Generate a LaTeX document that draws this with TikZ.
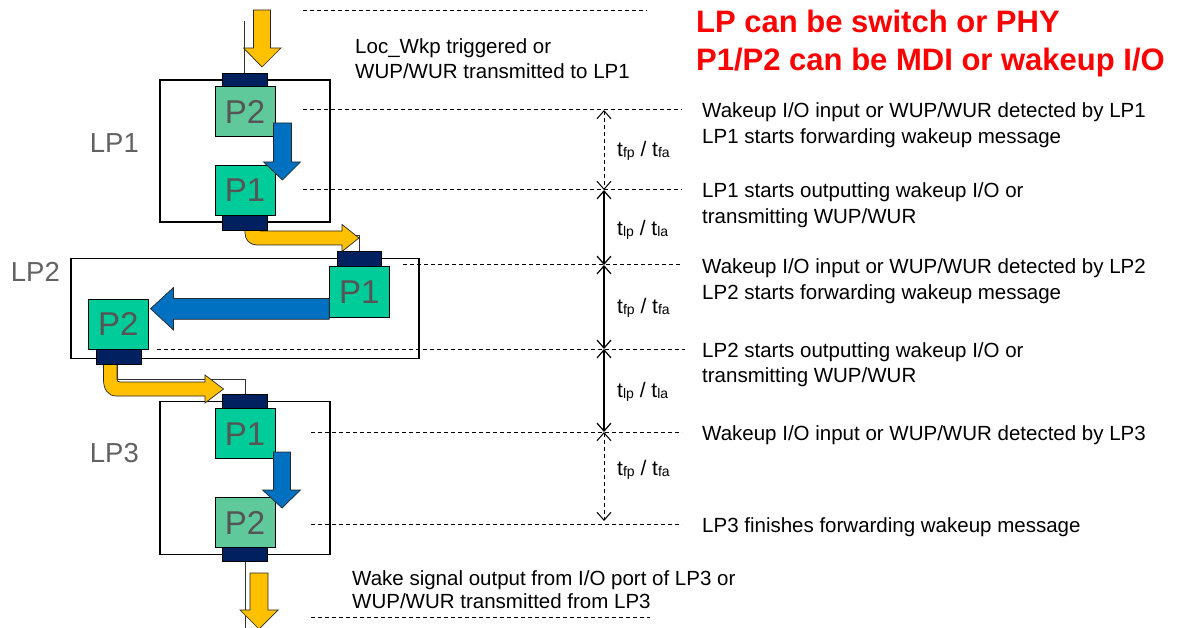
\documentclass[tikz,border=0pt]{standalone}
\usepackage{fontspec}
\setmainfont{Liberation Sans}
\usetikzlibrary{arrows.meta}
\definecolor{gold}{HTML}{FFC000}
\definecolor{pblue}{HTML}{0070C0}
\definecolor{navy}{HTML}{002060}
\definecolor{pteal}{HTML}{00CC99}
\definecolor{plight}{HTML}{5FC99B}
\definecolor{lblgray}{HTML}{626262}
\definecolor{ptxt}{HTML}{555555}
\newcommand\mysubt[1]{t\raisebox{-1pt}{\fontsize{14}{14}\selectfont #1}}
\tikzset{
  lpbox/.style={draw=black, line width=1.1pt, fill=white, inner sep=0pt},
  conn/.style={draw=black, line width=0.6pt, fill=navy, minimum width=45pt, minimum height=15pt, inner sep=0pt},
  pbox/.style={draw=black, line width=1pt, minimum width=60pt, minimum height=50pt, inner sep=0pt, text=ptxt, font=\fontsize{33}{33}\selectfont},
  yarrow/.style={fill=gold, draw=black!85, line width=0.7pt},
  barrow/.style={fill=pblue, draw=black!85, line width=0.7pt},
  link/.style={draw=black!80, line width=0.8pt},
  guide/.style={draw=black, line width=1pt, dash pattern=on 4pt off 3pt},
  dimsolid/.style={draw=black, line width=1.2pt, {Straight Barb[length=8pt,width=14pt]}-{Straight Barb[length=8pt,width=14pt]}},
  dimdash/.style={dimsolid, line width=1pt, dash pattern=on 4pt off 3pt},
  rtxt/.style={anchor=base west, inner sep=0pt, font=\fontsize{20.5}{24}\selectfont},
  redtxt/.style={anchor=base west, inner sep=0pt, text=red, font=\fontsize{31}{36}\selectfont\bfseries},
  lplabel/.style={anchor=base east, inner sep=0pt, text=lblgray, font=\fontsize{27.5}{30}\selectfont},
  dimlabel/.style={anchor=base west, inner sep=0pt, font=\fontsize{21}{24}\selectfont}
}
\begin{document}
\begin{tikzpicture}[x=1pt,y=-1pt]
\useasboundingbox (0,0) rectangle (1178,628);

% LP boxes
\node[lpbox, minimum width=170pt, minimum height=142pt] (lp1) at (245,151) {};
\node[lpbox, minimum width=348pt, minimum height=100pt] (lp2) at (245,308.7) {};
\node[lpbox, minimum width=170pt, minimum height=153pt] (lp3) at (245,478.4) {};

\node[lplabel] (lp1lbl) at (139,153) {LP1};
\node[lplabel] (lp2lbl) at (60,282) {LP2};
\node[lplabel] (lp3lbl) at (139,462) {LP3};

% guide dashed lines
\draw[guide] (303,11) -- (647,11);
\draw[guide] (303,110) -- (682,110);
\draw[guide] (303,190) -- (682,190);
\draw[guide] (403,265) -- (682,265);
\draw[guide] (157,349) -- (685,349);
\draw[guide] (311,432) -- (682,432);
\draw[guide] (311,524) -- (682,524);
\draw[guide] (311,617) -- (650,617);

% dimension coordinates
\coordinate (d0) at (604,110);
\coordinate (d1) at (604,190);
\coordinate (d2) at (604,265);
\coordinate (d3) at (604,349);
\coordinate (d4) at (604,432);
\coordinate (d5) at (604,521);
\draw[dimdash] (d0) -- (d1);
\draw[dimsolid] (d1) -- (d2);
\draw[dimsolid] (d2) -- (d3);
\draw[dimsolid] (d3) -- (d4);
\draw[dimdash] (d4) -- (d5);
\node[dimlabel] (dl1) at (617,157) {\mysubt{fp} / \mysubt{fa}};
\node[dimlabel] (dl2) at (617,236) {\mysubt{lp} / \mysubt{la}};
\node[dimlabel] (dl3) at (617,314) {\mysubt{fp} / \mysubt{fa}};
\node[dimlabel] (dl4) at (617,397) {\mysubt{lp} / \mysubt{la}};
\node[dimlabel] (dl5) at (617,475) {\mysubt{fp} / \mysubt{fa}};

% connectors (navy port blocks)
\node[conn] (c1t) at (245.2,80.5) {};
\node[conn] (c1b) at (245.2,222.5) {};
\node[conn, minimum width=44.4pt] (c2t) at (359.5,259.2) {};
\node[conn, minimum width=45.7pt] (c2b) at (118.9,356.8) {};
\node[conn] (c3t) at (245.2,401.5) {};
\node[conn] (c3b) at (245.2,554.2) {};

% thin links
\coordinate (tin) at (244,21);
\coordinate (tout) at (245.7,628);
\draw[link] (tin) -- (tin |- c1t.north);
\draw[link] ([xshift=1pt]c1b.south) -- ++(0,5) -| (c2t.north);
\draw[link] ([xshift=-2pt]c2b.south) -- ++(0,15) -| (c3t.north);
\draw[link] ([xshift=0.5pt]c3b.south) -- (tout);

% yellow arrows
\draw[yarrow] (253.5,10) -- (270.5,10) -- (270.5,48) -- (281,48) -- (262,67) -- (243.5,48) -- (253.5,48) -- cycle;
\draw[yarrow] (245,226) -- (245,233) .. controls (245,240) and (250,245) .. (257,245) -- (342,245) -- (342,251.5) -- (359,238) -- (342,224.5) -- (342,231) -- (261,231) .. controls (259,231) and (258,230) .. (258,228) -- (258,226) -- cycle;
\draw[yarrow] (103.5,360) -- (103.5,380) .. controls (103.5,389) and (108,396) .. (116,396) -- (205,396) -- (205,403) -- (223.5,389) -- (205,375) -- (205,382) -- (120,382) .. controls (118,382) and (117,381) .. (117,379) -- (117,360) -- cycle;
\draw[yarrow] (250,573) -- (268,573) -- (268,610) -- (278,610) -- (259,629) -- (240,610) -- (250,610) -- cycle;

% redraw connector blocks over arrow starts
\node[conn] at (c1b) {};
\node[conn, minimum width=45.7pt] at (c2b) {};

% port boxes
\node[pbox, fill=plight] (lp1p2) at (245,111.5) {P2};
\node[pbox, fill=pteal] (lp1p1) at (245,190.5) {P1};
\node[pbox, fill=pteal, minimum height=51pt] (lp2p1) at (359.3,292.2) {P1};
\node[pbox, fill=pteal] (lp2p2) at (118.3,324.3) {P2};
\node[pbox, fill=pteal] (lp3p1) at (245,433.7) {P1};
\node[pbox, fill=plight] (lp3p2) at (245,522.5) {P2};

% blue arrows
\draw[barrow] (273.5,123) -- (291.5,123) -- (291.5,162) -- (300.5,162) -- (282.5,180) -- (263.5,162) -- (273.5,162) -- cycle;
\draw[barrow] (329.3,298.5) -- (173.5,298.5) -- (173.5,287.5) -- (150.5,308.7) -- (173.5,330) -- (173.5,319.3) -- (329.3,319.3) -- cycle;
\draw[barrow] (273.5,452) -- (290.5,452) -- (290.5,490) -- (300.5,490) -- (282,508) -- (262.5,490) -- (273.5,490) -- cycle;

% texts
\node[rtxt] (top1) at (355,54) {Loc\_Wkp triggered or};
\node[rtxt] (top2) at (355,78.5) {WUP/WUR transmitted to LP1};
\node[rtxt] (bot1) at (352,585) {Wake signal output from I/O port of LP3 or};
\node[rtxt] (bot2) at (352,608) {WUP/WUR transmitted from LP3};

\node[redtxt] (red1) at (696,33) {LP can be switch or PHY};
\node[redtxt] (red2) at (696,71) {P1/P2 can be MDI or wakeup I/O};

\node[rtxt] (r1a) at (702,118) {Wakeup I/O input or WUP/WUR detected by LP1};
\node[rtxt] (r1b) at (702,143.5) {LP1 starts forwarding wakeup message};
\node[rtxt] (r2a) at (702,198) {LP1 starts outputting wakeup I/O or};
\node[rtxt] (r2b) at (702,223.5) {transmitting WUP/WUR};
\node[rtxt] (r3a) at (702,274) {Wakeup I/O input or WUP/WUR detected by LP2};
\node[rtxt] (r3b) at (702,299.5) {LP2 starts forwarding wakeup message};
\node[rtxt] (r4a) at (702,357) {LP2 starts outputting wakeup I/O or};
\node[rtxt] (r4b) at (702,382.5) {transmitting WUP/WUR};
\node[rtxt] (r5a) at (702,440) {Wakeup I/O input or WUP/WUR detected by LP3};
\node[rtxt] (r6a) at (702,532) {LP3 finishes forwarding wakeup message};
\end{tikzpicture}
\end{document}
